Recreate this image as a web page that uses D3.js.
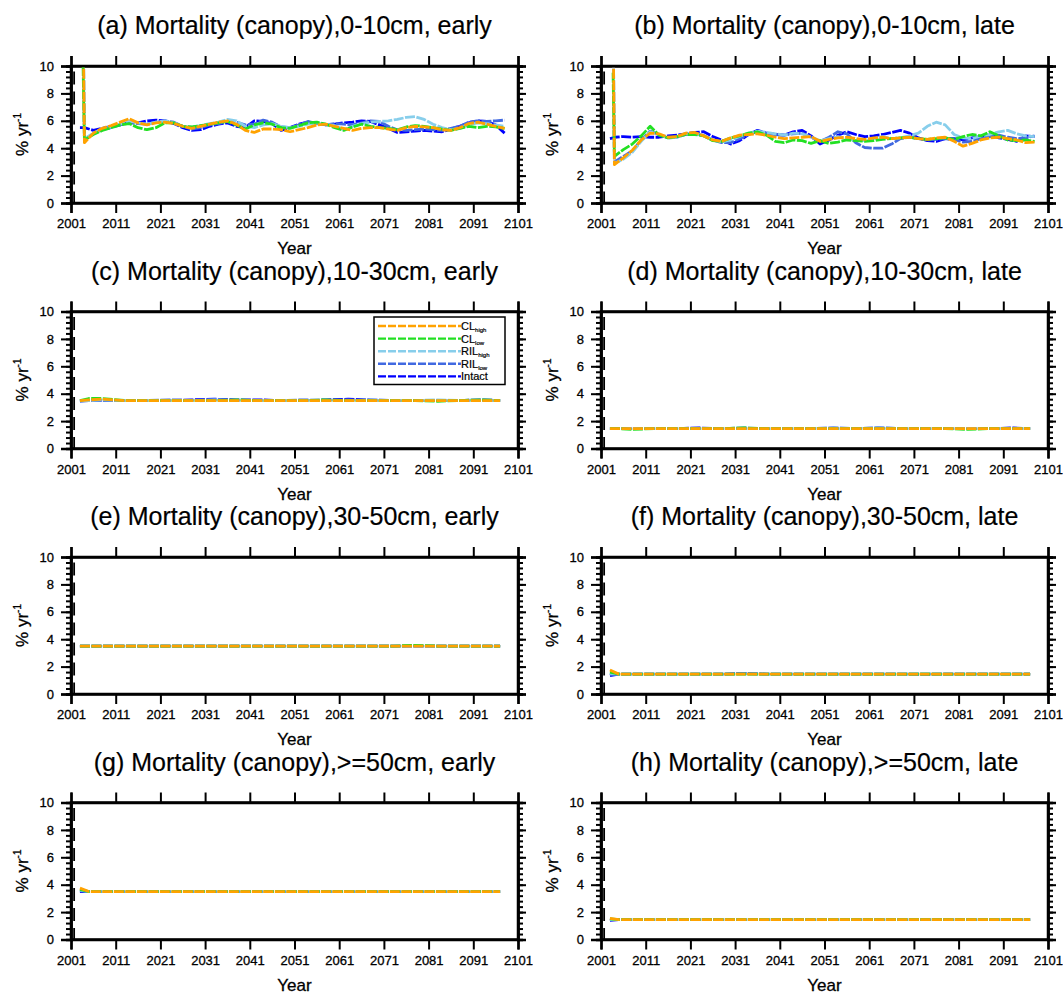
<!DOCTYPE html>
<html>
<head>
<meta charset="utf-8">
<script src="https://cdn.jsdelivr.net/npm/d3@7"></script>
<style>
  body { margin: 0; background: #fff; }
  text { font-family: "Liberation Sans", Arial, Helvetica, sans-serif; fill: #000; stroke: #000; stroke-width: 0.3px; }
</style>
</head>
<body>
<div id="viz"></div>
<script>
// ---- data ----
const seriesNames = ["Intact", "RIL_low", "RIL_high", "CL_low", "CL_high"];
const seriesColors = ["#0000ff", "#4169e1", "#87ceeb", "#22e022", "#ffa200"];

const panelTitles = [
  "(a) Mortality (canopy),0-10cm, early",
  "(b) Mortality (canopy),0-10cm, late",
  "(c) Mortality (canopy),10-30cm, early",
  "(d) Mortality (canopy),10-30cm, late",
  "(e) Mortality (canopy),30-50cm, early",
  "(f) Mortality (canopy),30-50cm, late",
  "(g) Mortality (canopy),>=50cm, early",
  "(h) Mortality (canopy),>=50cm, late"
];

const xTicks = [2001, 2011, 2021, 2031, 2041, 2051, 2061, 2071, 2081, 2091, 2101];
const yTicks = [0, 2, 4, 6, 8, 10];
const markerYear = 2001.7;

// detailed years (0-10cm panels)
const years = [2003, 2003.7, 2004, 2006, 2008, 2010, 2012, 2014, 2016, 2018,
  2020, 2022, 2024, 2026, 2028, 2030, 2032, 2034, 2036, 2038,
  2040, 2042, 2044, 2046, 2048, 2050, 2052, 2054, 2056, 2058,
  2060, 2062, 2064, 2066, 2068, 2070, 2072, 2074, 2076, 2078,
  2080, 2082, 2084, 2086, 2088, 2090, 2092, 2094, 2096, 2098];

// (a) 0-10cm early
const intactA = [5.5, 5.5, 5.5, 5.3, 5.45, 5.6, 5.7, 5.9, 5.85, 6.0,
  6.05, 6.0, 5.8, 5.5, 5.3, 5.35, 5.6, 5.75, 5.85, 5.6,
  5.5, 6.0, 5.95, 5.8, 5.3, 5.5, 5.75, 5.9, 5.85, 5.7,
  5.75, 5.85, 5.9, 6.0, 5.95, 5.7, 5.45, 5.15, 5.2, 5.25,
  5.3, 5.25, 5.2, 5.4, 5.6, 5.85, 6.0, 5.95, 5.7, 5.1];
const rilLowA = [null, 14, 4.6, 5.05, 5.35, 5.5, 5.7, 5.85, 5.8, 5.75,
  5.9, 6.0, 5.9, 5.6, 5.4, 5.5, 5.7, 5.8, 5.95, 5.9,
  5.7, 5.75, 6.05, 5.9, 5.55, 5.5, 5.7, 5.95, 5.8, 5.7,
  5.8, 5.75, 5.7, 5.85, 6.0, 5.95, 5.6, 5.35, 5.3, 5.35,
  5.4, 5.35, 5.3, 5.45, 5.6, 5.9, 6.0, 5.95, 6.0, 6.05];
const rilHighA = [null, 14, 4.7, 5.1, 5.4, 5.55, 5.75, 6.0, 5.85, 5.75,
  5.9, 6.0, 5.85, 5.6, 5.55, 5.65, 5.8, 5.9, 6.1, 6.0,
  5.6, 5.5, 5.7, 5.8, 5.6, 5.5, 5.6, 5.75, 5.85, 5.75,
  5.65, 5.35, 5.6, 5.8, 5.9, 5.95, 6.0, 6.1, 6.25, 6.3,
  6.1, 5.75, 5.5, 5.35, 5.45, 5.7, 5.85, 5.8, 5.7, 5.6];
const clLowA = [null, 10, 4.6, 5.0, 5.3, 5.5, 5.7, 5.8, 5.5, 5.35,
  5.5, 5.85, 5.85, 5.6, 5.55, 5.65, 5.75, 5.85, 5.95, 5.7,
  5.4, 5.7, 5.85, 5.75, 5.5, 5.45, 5.65, 5.85, 5.9, 5.75,
  5.5, 5.3, 5.55, 5.75, 5.6, 5.5, 5.45, 5.35, 5.55, 5.65,
  5.6, 5.5, 5.4, 5.3, 5.45, 5.6, 5.5, 5.6, 5.55, 5.45];
const clHighA = [null, 14, 4.4, 5.1, 5.45, 5.65, 5.9, 6.15, 5.85, 5.7,
  5.85, 5.9, 5.8, 5.6, 5.45, 5.6, 5.75, 5.9, 6.0, 5.75,
  5.3, 5.15, 5.4, 5.4, 5.35, 5.2, 5.35, 5.5, 5.7, 5.75,
  5.6, 5.45, 5.3, 5.45, 5.5, 5.5, 5.4, 5.3, 5.5, 5.6,
  5.55, 5.5, 5.35, 5.3, 5.5, 5.8, 5.9, 5.75, 5.6, 5.45];

// (b) 0-10cm late
const intactB = [4.7, 4.75, 4.8, 4.85, 4.8, 4.85, 4.8, 4.8, 4.9, 4.95,
  5.05, 5.15, 5.2, 4.85, 4.6, 4.3, 4.55, 5.0, 5.3, 5.1,
  5.0, 4.95, 5.2, 5.3, 4.9, 4.3, 4.6, 4.95, 5.2, 5.0,
  4.85, 4.9, 5.0, 5.15, 5.3, 5.1, 4.75, 4.55, 4.5, 4.7,
  4.7, 4.6, 4.75, 4.85, 4.95, 4.75, 4.65, 4.5, 4.9, 4.85];
const rilLowB = [null, 14, 3.0, 3.4, 3.8, 4.6, 5.25, 5.0, 4.75, 4.8,
  5.0, 5.1, 4.9, 4.6, 4.4, 4.4, 4.7, 5.0, 5.2, 5.1,
  5.0, 4.95, 5.05, 5.1, 4.8, 4.5, 4.8, 5.2, 5.05, 4.4,
  4.05, 4.0, 4.0, 4.3, 4.7, 4.8, 4.7, 4.6, 4.65, 4.7,
  4.6, 4.45, 4.5, 4.7, 4.85, 4.95, 4.8, 4.7, 4.75, 4.9];
const rilHighB = [null, 14, 2.9, 3.2, 3.7, 4.5, 5.2, 5.0, 4.75, 4.8,
  5.05, 5.1, 4.9, 4.6, 4.45, 4.6, 4.85, 5.1, 5.25, 5.15,
  5.05, 4.95, 5.1, 5.05, 4.8, 4.55, 4.7, 4.85, 4.7, 4.6,
  4.55, 4.7, 4.85, 4.7, 4.75, 4.9, 5.1, 5.6, 5.9, 5.7,
  5.0, 4.75, 4.7, 4.9, 5.0, 5.2, 5.3, 5.05, 4.9, 4.85];
const clLowB = [null, 9.5, 3.4, 3.9, 4.3, 4.9, 5.6, 4.95, 4.75, 4.85,
  5.0, 5.0, 4.9, 4.55, 4.5, 4.75, 4.9, 5.1, 5.2, 4.95,
  4.5, 4.4, 4.6, 4.55, 4.35, 4.55, 4.35, 4.45, 4.6, 4.55,
  4.5, 4.55, 4.65, 4.7, 4.75, 4.8, 4.7, 4.65, 4.7, 4.75,
  4.65, 4.85, 5.0, 4.9, 5.2, 4.9, 4.6, 4.55, 4.6, 4.5];
const clHighB = [null, 14, 2.8, 3.3, 3.85, 4.6, 5.1, 5.05, 4.8, 4.85,
  5.1, 5.15, 4.9, 4.6, 4.5, 4.75, 4.95, 5.0, 5.05, 4.95,
  4.8, 4.7, 4.75, 4.8, 4.85, 4.5, 4.65, 4.75, 4.8, 4.7,
  4.65, 4.75, 4.8, 4.7, 4.75, 4.8, 4.7, 4.65, 4.75, 4.8,
  4.5, 4.15, 4.35, 4.6, 4.75, 4.8, 4.7, 4.6, 4.4, 4.45];

// coarse years (deeper layers, nearly flat)
const yearsFlat = [2003, 2005, 2008, 2013, 2018, 2023, 2028, 2033, 2038, 2043,
  2048, 2053, 2058, 2063, 2068, 2073, 2078, 2083, 2088, 2093, 2097];

// (c) 10-30cm early
const intactC = [3.5, 3.5, 3.5, 3.5, 3.5, 3.5, 3.55, 3.6, 3.55, 3.55, 3.5, 3.5, 3.55, 3.6, 3.55, 3.5, 3.5, 3.5, 3.5, 3.55, 3.5];
const rilLowC = [3.45, 3.5, 3.5, 3.5, 3.5, 3.55, 3.5, 3.55, 3.5, 3.5, 3.5, 3.55, 3.5, 3.55, 3.5, 3.5, 3.5, 3.5, 3.5, 3.5, 3.5];
const rilHighC = [3.5, 3.5, 3.55, 3.5, 3.5, 3.5, 3.5, 3.55, 3.5, 3.5, 3.5, 3.5, 3.5, 3.5, 3.55, 3.5, 3.5, 3.55, 3.5, 3.5, 3.5];
const clLowC = [3.5, 3.65, 3.65, 3.5, 3.5, 3.5, 3.5, 3.5, 3.55, 3.5, 3.5, 3.5, 3.55, 3.5, 3.5, 3.5, 3.5, 3.45, 3.5, 3.55, 3.5];
const clHighC = [3.5, 3.55, 3.6, 3.5, 3.5, 3.5, 3.5, 3.5, 3.5, 3.5, 3.5, 3.5, 3.5, 3.5, 3.5, 3.5, 3.5, 3.5, 3.5, 3.5, 3.5];

// (d) 10-30cm late
const intactD = [1.45, 1.45, 1.45, 1.45, 1.45, 1.5, 1.45, 1.45, 1.45, 1.45, 1.45, 1.5, 1.45, 1.5, 1.45, 1.45, 1.45, 1.45, 1.45, 1.5, 1.45];
const rilLowD = [1.45, 1.45, 1.45, 1.45, 1.45, 1.45, 1.45, 1.5, 1.45, 1.45, 1.45, 1.45, 1.45, 1.5, 1.45, 1.45, 1.45, 1.45, 1.45, 1.45, 1.45];
const rilHighD = [1.45, 1.45, 1.45, 1.45, 1.45, 1.45, 1.45, 1.45, 1.45, 1.45, 1.45, 1.5, 1.45, 1.5, 1.45, 1.45, 1.45, 1.45, 1.45, 1.45, 1.45];
const clLowD = [1.45, 1.45, 1.4, 1.45, 1.45, 1.45, 1.45, 1.5, 1.45, 1.45, 1.45, 1.45, 1.45, 1.45, 1.45, 1.45, 1.45, 1.4, 1.45, 1.45, 1.45];
const clHighD = [1.45, 1.45, 1.45, 1.45, 1.45, 1.45, 1.45, 1.45, 1.45, 1.45, 1.45, 1.45, 1.45, 1.45, 1.45, 1.45, 1.45, 1.45, 1.45, 1.45, 1.45];

// (e) 30-50cm early
const intactE = [3.5, 3.5, 3.5, 3.5, 3.5, 3.5, 3.5, 3.5, 3.5, 3.5, 3.5, 3.5, 3.5, 3.5, 3.5, 3.5, 3.5, 3.5, 3.5, 3.5, 3.5];
const rilLowE = [3.5, 3.5, 3.5, 3.5, 3.5, 3.5, 3.5, 3.5, 3.5, 3.5, 3.5, 3.5, 3.5, 3.5, 3.5, 3.5, 3.5, 3.5, 3.5, 3.5, 3.5];
const rilHighE = [3.5, 3.5, 3.5, 3.5, 3.5, 3.5, 3.5, 3.5, 3.5, 3.5, 3.5, 3.5, 3.5, 3.5, 3.5, 3.5, 3.5, 3.5, 3.5, 3.5, 3.5];
const clLowE = [3.5, 3.5, 3.5, 3.5, 3.5, 3.5, 3.5, 3.5, 3.5, 3.5, 3.5, 3.5, 3.5, 3.5, 3.5, 3.5, 3.55, 3.5, 3.5, 3.5, 3.5];
const clHighE = [3.5, 3.5, 3.5, 3.5, 3.5, 3.5, 3.5, 3.5, 3.5, 3.5, 3.5, 3.5, 3.5, 3.5, 3.5, 3.5, 3.5, 3.5, 3.5, 3.5, 3.5];

// (f) 30-50cm late
const intactF = [1.35, 1.45, 1.45, 1.45, 1.45, 1.45, 1.45, 1.5, 1.45, 1.45, 1.45, 1.45, 1.45, 1.45, 1.45, 1.45, 1.45, 1.45, 1.45, 1.45, 1.45];
const rilLowF = [1.4, 1.45, 1.45, 1.45, 1.45, 1.45, 1.45, 1.5, 1.45, 1.45, 1.45, 1.45, 1.45, 1.45, 1.45, 1.45, 1.45, 1.45, 1.45, 1.45, 1.45];
const rilHighF = [1.5, 1.45, 1.45, 1.45, 1.45, 1.45, 1.45, 1.45, 1.45, 1.45, 1.45, 1.45, 1.45, 1.45, 1.45, 1.5, 1.45, 1.45, 1.45, 1.45, 1.45];
const clLowF = [1.6, 1.45, 1.45, 1.45, 1.45, 1.45, 1.45, 1.45, 1.45, 1.45, 1.45, 1.45, 1.45, 1.45, 1.45, 1.45, 1.45, 1.45, 1.45, 1.45, 1.45];
const clHighF = [1.75, 1.45, 1.45, 1.45, 1.45, 1.45, 1.45, 1.45, 1.45, 1.45, 1.45, 1.45, 1.45, 1.45, 1.45, 1.45, 1.45, 1.45, 1.45, 1.45, 1.45];

// (g) >=50cm early
const intactG = [3.5, 3.5, 3.5, 3.5, 3.5, 3.5, 3.5, 3.5, 3.5, 3.5, 3.5, 3.5, 3.5, 3.5, 3.5, 3.5, 3.5, 3.5, 3.5, 3.5, 3.5];
const rilLowG = [3.55, 3.5, 3.5, 3.5, 3.5, 3.5, 3.5, 3.5, 3.5, 3.5, 3.5, 3.5, 3.5, 3.5, 3.5, 3.5, 3.5, 3.5, 3.5, 3.5, 3.5];
const rilHighG = [3.6, 3.5, 3.5, 3.5, 3.5, 3.5, 3.5, 3.5, 3.5, 3.5, 3.5, 3.5, 3.5, 3.5, 3.5, 3.5, 3.5, 3.5, 3.5, 3.5, 3.5];
const clLowG = [3.65, 3.5, 3.5, 3.5, 3.5, 3.5, 3.5, 3.5, 3.5, 3.5, 3.5, 3.5, 3.5, 3.5, 3.5, 3.5, 3.5, 3.5, 3.5, 3.5, 3.5];
const clHighG = [3.75, 3.5, 3.5, 3.5, 3.5, 3.5, 3.5, 3.5, 3.5, 3.5, 3.5, 3.5, 3.5, 3.5, 3.5, 3.5, 3.5, 3.5, 3.5, 3.5, 3.5];

// (h) >=50cm late
const intactH = [1.4, 1.45, 1.45, 1.45, 1.45, 1.45, 1.45, 1.45, 1.45, 1.45, 1.45, 1.45, 1.45, 1.45, 1.45, 1.45, 1.45, 1.45, 1.45, 1.45, 1.45];
const rilLowH = [1.45, 1.45, 1.45, 1.45, 1.45, 1.45, 1.45, 1.45, 1.45, 1.45, 1.45, 1.45, 1.45, 1.45, 1.45, 1.45, 1.45, 1.45, 1.45, 1.45, 1.45];
const rilHighH = [1.45, 1.45, 1.45, 1.45, 1.45, 1.45, 1.45, 1.45, 1.45, 1.45, 1.45, 1.45, 1.45, 1.45, 1.45, 1.45, 1.45, 1.45, 1.45, 1.45, 1.45];
const clLowH = [1.5, 1.45, 1.45, 1.45, 1.45, 1.45, 1.45, 1.45, 1.45, 1.45, 1.45, 1.45, 1.45, 1.45, 1.45, 1.45, 1.45, 1.45, 1.45, 1.45, 1.45];
const clHighH = [1.55, 1.45, 1.45, 1.45, 1.45, 1.45, 1.45, 1.45, 1.45, 1.45, 1.45, 1.45, 1.45, 1.45, 1.45, 1.45, 1.45, 1.45, 1.45, 1.45, 1.45];

const panels = [
  { x: years, s: [intactA, rilLowA, rilHighA, clLowA, clHighA] },
  { x: years, s: [intactB, rilLowB, rilHighB, clLowB, clHighB] },
  { x: yearsFlat, s: [intactC, rilLowC, rilHighC, clLowC, clHighC] },
  { x: yearsFlat, s: [intactD, rilLowD, rilHighD, clLowD, clHighD] },
  { x: yearsFlat, s: [intactE, rilLowE, rilHighE, clLowE, clHighE] },
  { x: yearsFlat, s: [intactF, rilLowF, rilHighF, clLowF, clHighF] },
  { x: yearsFlat, s: [intactG, rilLowG, rilHighG, clLowG, clHighG] },
  { x: yearsFlat, s: [intactH, rilLowH, rilHighH, clLowH, clHighH] }
];

// ---- layout ----
const width = 1063;
const height = 993;
const colX = [71, 601];
const rowY = [66, 311.5, 557, 802.5];
const pw = 447;
const ph = 137;

const svg = d3.select("#viz").append("svg")
  .attr("width", width)
  .attr("height", height);
svg.append("rect").attr("width", width).attr("height", height).attr("fill", "#fff");

const x = d3.scaleLinear().domain([2001, 2101]).range([0, pw]);
const y = d3.scaleLinear().domain([0, 10]).range([ph, 0]);
const yMinor = d3.range(0, 10.001, 0.4);

svg.append("defs").append("clipPath").attr("id", "plotclip")
  .append("rect").attr("x", 0).attr("y", 0).attr("width", pw).attr("height", ph);

panels.forEach(function (p, i) {
  const g = svg.append("g")
    .attr("transform", "translate(" + colX[i % 2] + "," + rowY[Math.floor(i / 2)] + ")");

  // title
  g.append("text")
    .attr("x", pw / 2)
    .attr("y", -32)
    .attr("text-anchor", "middle")
    .style("font-size", "25px")
    .style("stroke-width", "0.2px")
    .text(panelTitles[i]);

  // axes
  g.append("g").attr("class", "axis")
    .attr("transform", "translate(0," + ph + ")")
    .call(d3.axisBottom(x).tickValues(xTicks).tickFormat(d3.format("d")).tickSize(10).tickPadding(6));
  g.append("g").attr("class", "axis")
    .call(d3.axisTop(x).tickValues(xTicks).tickFormat("").tickSize(10));
  g.append("g").attr("class", "axis")
    .call(d3.axisLeft(y).tickValues(yMinor).tickFormat("").tickSize(5));
  g.append("g").attr("class", "axis")
    .call(d3.axisLeft(y).tickValues(yTicks).tickSize(10).tickPadding(7));
  g.append("g").attr("class", "axis")
    .attr("transform", "translate(" + pw + ",0)")
    .call(d3.axisRight(y).tickValues(yMinor).tickFormat("").tickSize(5));
  g.append("g").attr("class", "axis")
    .attr("transform", "translate(" + pw + ",0)")
    .call(d3.axisRight(y).tickValues(yTicks).tickFormat("").tickSize(8));

  g.selectAll(".axis path.domain").attr("stroke-width", 2.5);
  g.selectAll(".axis line").attr("stroke-width", 2);
  g.selectAll(".axis text").style("font-size", "13px")
    .style("font-family", "'Liberation Sans', Arial, sans-serif");

  // axis labels
  g.append("text")
    .attr("x", pw / 2)
    .attr("y", ph + 51)
    .attr("text-anchor", "middle")
    .style("font-size", "17px")
    .text("Year");

  const yl = g.append("text")
    .attr("transform", "translate(-43," + ph / 2 + ") rotate(-90)")
    .attr("text-anchor", "middle")
    .style("font-size", "17px");
  yl.append("tspan").text("% yr");
  yl.append("tspan").attr("dy", -7).style("font-size", "10px").text("-1");

  // vertical dashed reference line
  g.append("line")
    .attr("x1", x(markerYear)).attr("x2", x(markerYear))
    .attr("y1", y(9.6)).attr("y2", y(0))
    .attr("stroke", "#000")
    .attr("stroke-width", 1.8)
    .attr("stroke-dasharray", "13,7");

  // data lines
  const line = d3.line()
    .defined(function (d) { return d[1] != null; })
    .x(function (d) { return x(d[0]); })
    .y(function (d) { return y(d[1]); });

  const lines = g.append("g").attr("clip-path", "url(#plotclip)");
  p.s.forEach(function (vals, k) {
    const pts = p.x.map(function (yr, j) { return [yr, vals[j]]; });
    lines.append("path")
      .datum(pts)
      .attr("fill", "none")
      .attr("stroke", seriesColors[k])
      .attr("stroke-width", 2.8)
      .attr("stroke-dasharray", "10,1.5")
      .attr("stroke-linejoin", "round")
      .attr("d", line);
  });

  // frame
  g.append("rect")
    .attr("width", pw).attr("height", ph)
    .attr("fill", "none").attr("stroke", "#000").attr("stroke-width", 2.5);

  // legend in panel (c)
  if (i === 2) {
    const lg = g.append("g").attr("transform", "translate(" + 303 + "," + 5.5 + ")");
    lg.append("rect")
      .attr("width", 131).attr("height", 67.5)
      .attr("fill", "#fff").attr("stroke", "#000").attr("stroke-width", 1.5);
    const labels = [
      ["CL", "high"], ["CL", "low"], ["RIL", "high"], ["RIL", "low"], ["Intact", ""]
    ];
    const order = [4, 3, 2, 1, 0];
    order.forEach(function (k, r) {
      const ly = 9 + r * 12.6;
      lg.append("line")
        .attr("x1", 4).attr("x2", 87)
        .attr("y1", ly).attr("y2", ly)
        .attr("stroke", seriesColors[k])
        .attr("stroke-width", 2.4)
        .attr("stroke-dasharray", "8,2");
      const t = lg.append("text")
        .attr("x", 87)
        .attr("y", ly + 4)
        .style("font-size", "11px")
        .style("stroke-width", "0.2px");
      t.append("tspan").text(labels[r][0]);
      if (labels[r][1]) {
        t.append("tspan").attr("dy", 2).style("font-size", "6px").text(labels[r][1]);
      }
    });
  }
});
</script>
</body>
</html>
